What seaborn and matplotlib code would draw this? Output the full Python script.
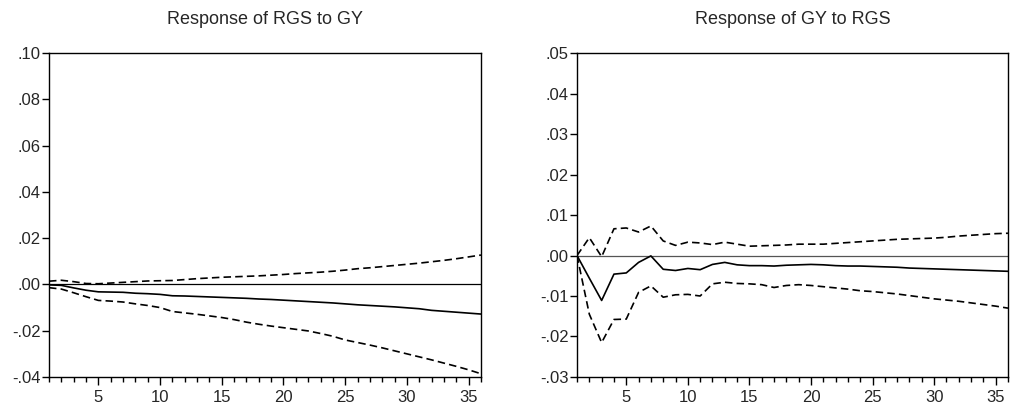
import numpy as np
import pandas as pd
import matplotlib
matplotlib.use("Agg")
import matplotlib.pyplot as plt
import seaborn as sns
from matplotlib.ticker import FuncFormatter, MultipleLocator

periods = list(range(1, 37))

# Response of RGS to GY
rgs_gy_irf = [-0.0002, -0.0004, -0.0015, -0.0025, -0.0032, -0.0033, -0.0034, -0.0038, -0.0040, -0.0043,
              -0.0049, -0.0050, -0.0052, -0.0054, -0.0056, -0.0058, -0.0060, -0.0063, -0.0065, -0.0068,
              -0.0071, -0.0074, -0.0077, -0.0080, -0.0084, -0.0088, -0.0091, -0.0094, -0.0097, -0.0101,
              -0.0105, -0.0112, -0.0116, -0.0120, -0.0124, -0.0128]
rgs_gy_upper = [0.0014, 0.0018, 0.0012, 0.0004, 0.0003, 0.0006, 0.0009, 0.0012, 0.0015, 0.0016,
                0.0017, 0.0021, 0.0025, 0.0028, 0.0031, 0.0033, 0.0035, 0.0037, 0.0040, 0.0043,
                0.0047, 0.0050, 0.0053, 0.0057, 0.0062, 0.0068, 0.0072, 0.0077, 0.0082, 0.0087,
                0.0092, 0.0098, 0.0104, 0.0111, 0.0119, 0.0127]
rgs_gy_lower = [-0.0014, -0.0020, -0.0036, -0.0053, -0.0069, -0.0072, -0.0076, -0.0084, -0.0091, -0.0100,
                -0.0117, -0.0123, -0.0129, -0.0136, -0.0143, -0.0152, -0.0163, -0.0172, -0.0180, -0.0187,
                -0.0194, -0.0201, -0.0212, -0.0224, -0.0240, -0.0251, -0.0262, -0.0274, -0.0287, -0.0300,
                -0.0313, -0.0326, -0.0340, -0.0354, -0.0369, -0.0386]

# Response of GY to RGS
gy_rgs_irf = [0.0, -0.0056, -0.0111, -0.0046, -0.0043, -0.0017, -0.0001, -0.0034, -0.0037, -0.0032,
              -0.0035, -0.0022, -0.0017, -0.0023, -0.0025, -0.0025, -0.0026, -0.0024, -0.0023, -0.0022,
              -0.0023, -0.0025, -0.0026, -0.0026, -0.0027, -0.0028, -0.0029, -0.0031, -0.0032, -0.0033,
              -0.0034, -0.0035, -0.0036, -0.0037, -0.0038, -0.0039]
gy_rgs_upper = [0.0, 0.0044, -0.0003, 0.0066, 0.0068, 0.0058, 0.0073, 0.0036, 0.0025, 0.0033,
                0.0031, 0.0027, 0.0033, 0.0028, 0.0023, 0.0024, 0.0025, 0.0026, 0.0028, 0.0028,
                0.0028, 0.0030, 0.0032, 0.0034, 0.0036, 0.0038, 0.0040, 0.0041, 0.0042, 0.0043,
                0.0045, 0.0048, 0.0050, 0.0052, 0.0054, 0.0055]
gy_rgs_lower = [0.0, -0.0145, -0.0215, -0.0158, -0.0157, -0.0091, -0.0075, -0.0103, -0.0097, -0.0096,
                -0.0100, -0.0070, -0.0066, -0.0069, -0.0070, -0.0072, -0.0079, -0.0074, -0.0072, -0.0074,
                -0.0077, -0.0080, -0.0083, -0.0087, -0.0089, -0.0092, -0.0095, -0.0099, -0.0103, -0.0107,
                -0.0110, -0.0113, -0.0117, -0.0121, -0.0125, -0.0130]

sns.set_style("white")
plt.rcParams["font.family"] = ["Liberation Sans", "DejaVu Sans"]


def eviews_fmt(v, pos):
    s = f"{v:.2f}"
    if s == "-0.00":
        s = "0.00"
    return s.replace("0.", ".", 1)


def plot_irf(ax, title, irf, upper, lower, ylim, ystep, zero_color):
    df = pd.DataFrame({"period": periods, "irf": irf, "upper": upper, "lower": lower})
    ax.axhline(0, color=zero_color, linewidth=0.9, zorder=1)
    sns.lineplot(data=df, x="period", y="irf", ax=ax, color="black", linewidth=1.2)
    for col in ["upper", "lower"]:
        sns.lineplot(data=df, x="period", y=col, ax=ax, color="black", linewidth=1.2,
                     linestyle=(0, (4.5, 2.5)))
    ax.set_xlim(1, 36)
    ax.set_ylim(*ylim)
    ax.set_title(title, fontsize=13, pad=21)
    ax.set_xlabel("")
    ax.set_ylabel("")
    ax.xaxis.set_major_locator(MultipleLocator(5))
    ax.xaxis.set_minor_locator(MultipleLocator(1))
    ax.yaxis.set_major_locator(MultipleLocator(ystep))
    ax.yaxis.set_major_formatter(FuncFormatter(eviews_fmt))
    ax.tick_params(axis="x", which="major", direction="out", length=6, width=1,
                   bottom=True, top=False, labelsize=12, pad=3.5, color="black")
    ax.tick_params(axis="x", which="minor", direction="out", length=3.5, width=1,
                   bottom=True, top=False, color="black")
    ax.tick_params(axis="y", which="major", direction="out", length=5, width=1,
                   left=True, right=False, labelsize=12, pad=1, color="black")
    for sp in ax.spines.values():
        sp.set_visible(True)
        sp.set_color("black")
        sp.set_linewidth(1.0)


fig = plt.figure(figsize=(10.1, 4.08), dpi=100)
ax1 = fig.add_axes([0.0485, 0.076, 0.4277, 0.794])
ax2 = fig.add_axes([0.5713, 0.076, 0.4267, 0.794])

plot_irf(ax1, "Response of RGS to GY", rgs_gy_irf, rgs_gy_upper, rgs_gy_lower,
         (-0.04, 0.10), 0.02, "black")
plot_irf(ax2, "Response of GY to RGS", gy_rgs_irf, gy_rgs_upper, gy_rgs_lower,
         (-0.03, 0.05), 0.01, "#555555")

fig.savefig("out.png", dpi=100)
plt.close(fig)
